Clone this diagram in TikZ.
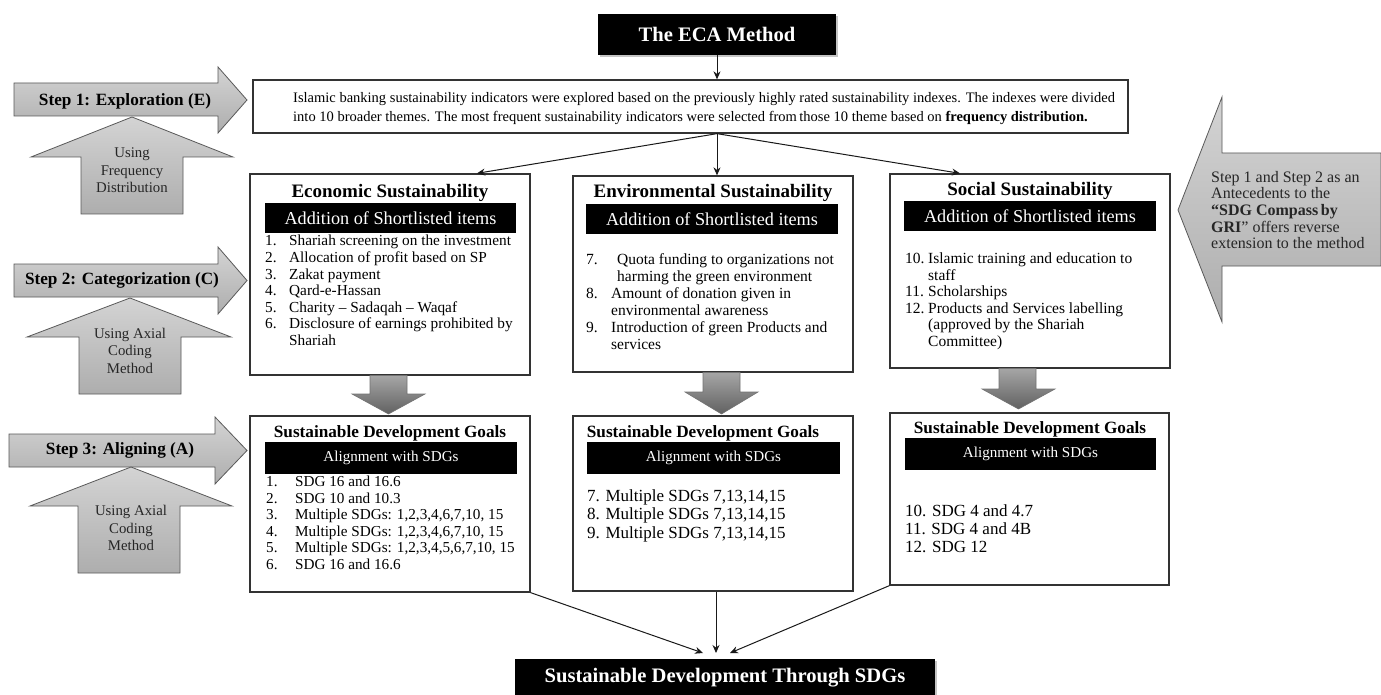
\documentclass[tikz,border=0pt]{standalone}
\usepackage{fontspec}
\setmainfont{Liberation Serif}
\usetikzlibrary{shadows,calc,arrows.meta}
\begin{document}
\begin{tikzpicture}[x=1pt,y=-1pt,
  box/.style={draw=black!80, line width=1.3pt, fill=white, inner sep=0},
  bar/.style={fill=black, text=white, inner sep=0},
  headtxt/.style={inner sep=0, font=\fontsize{19}{21}\selectfont\bfseries},
  sdghead/.style={inner sep=0, font=\fontsize{17.2}{19}\selectfont\bfseries},
  bartxt/.style={bar, font=\fontsize{18.2}{20}\selectfont},
  sdgbar/.style={bar, font=\fontsize{15.1}{17}\selectfont},
  listtxt/.style={inner sep=0, anchor=north west, align=left},
  title/.style={fill=black, text=white, inner sep=0, font=\fontsize{20.6}{22}\selectfont\bfseries,
     drop shadow={shadow xshift=2pt, shadow yshift=-2pt, fill=black!45}},
  blockarrow/.style={draw=black!65, line width=0.8pt, top color=black!17, bottom color=black!32},
  downarrow/.style={draw=black!55, line width=0.6pt, top color=black!35, bottom color=black!62},
  steptxt/.style={inner sep=0, font=\fontsize{17.2}{19}\selectfont\bfseries},
  usetxt/.style={inner sep=0, align=center, text=black!85, font=\fontsize{14.8}{17.5}\selectfont},
  conn/.style={-{Stealth[length=8pt,width=7pt]}, line width=1pt, draw=black!90}
]
\useasboundingbox (0,0) rectangle (1381,695);
\fill[white] (0,0) rectangle (1381,695);

% ---------- left step arrows ----------
\path[blockarrow] (14,83) -- (218,83) -- (218,67) -- (247,100) -- (218,133) -- (218,116) -- (14,116) -- cycle;
\path[blockarrow] (132,117) -- (233,157) -- (183,157) -- (183,214) -- (81,214) -- (81,157) -- (31,157) -- cycle;
\node[steptxt] (s1) at (125,101) {Step 1: Exploration (E)};
\node[usetxt] (u1) at (132,170.5) {Using\\Frequency\\Distribution};

\path[blockarrow] (14,264) -- (218,264) -- (218,247) -- (247,280.5) -- (218,314) -- (218,297) -- (14,297) -- cycle;
\path[blockarrow] (130,298) -- (231,337) -- (181,337) -- (181,394) -- (79,394) -- (79,337) -- (27,337) -- cycle;
\node[steptxt] (s2) at (122,280.5) {Step 2: Categorization (C)};
\node[usetxt] (u2) at (130,350.5) {Using Axial\\Coding\\Method};

\path[blockarrow] (9,434) -- (215,434) -- (215,417) -- (247,450.5) -- (215,484) -- (215,467) -- (9,467) -- cycle;
\path[blockarrow] (131,467) -- (232,506) -- (180,506) -- (180,573) -- (78,573) -- (78,506) -- (30,506) -- cycle;
\node[steptxt] (s3) at (120,450.5) {Step 3: Aligning (A)};
\node[usetxt] (u3) at (131,528) {Using Axial\\Coding\\Method};

% ---------- right arrow ----------
\path[blockarrow] (1381,153) -- (1222,153) -- (1222,97) -- (1178,210) -- (1222,322) -- (1222,266) -- (1381,266) -- cycle;
\node[inner sep=0, anchor=west, align=left, text=black!85, font=\fontsize{16}{16.6}\selectfont] (rtxt) at (1211,210)
  {Step 1 and Step 2 as an\\Antecedents to the\\\textbf{“SDG Compass\,by}\\\textbf{GRI}” offers reverse\\extension to the method};

% ---------- top ----------
\node[title, minimum width=238, minimum height=41] (eca) at (717,34.5) {The ECA Method};
\node[box, minimum width=875, minimum height=53] (topbox) at (690.5,106.5) {};
\node[inner sep=0, anchor=west, align=left, font=\fontsize{14.5}{19}\selectfont] (toptxt) at (293,108.5)
  {Islamic banking sustainability indicators were explored based on the previously highly rated sustainability indexes. The indexes were divided\\
   into 10 broader themes. The most frequent sustainability indicators were selected from\,those 10 theme based on \textbf{frequency distribution.}};

% ---------- category boxes ----------
\node[box, minimum width=280, minimum height=201] (econ) at (390,274.5) {};
\node[headtxt] (econH) at (390,193) {Economic Sustainability};
\node[bartxt, minimum width=251, minimum height=30] (econB) at (390.5,218) {Addition of Shortlisted items};
\node[listtxt, font=\fontsize{15.3}{16.6}\selectfont] (econL) at (265,234) {%
\begin{tabular}{@{}p{24pt}@{}l@{}}
1. & Shariah screening on the investment\\
2. & Allocation of profit based on SP\\
3. & Zakat payment\\
4. & Qard-e-Hassan\\
5. & Charity -- Sadaqah -- Waqaf\\
6. & Disclosure of earnings prohibited by\\
   & Shariah
\end{tabular}};

\node[box, minimum width=280, minimum height=196] (env) at (713,274) {};
\node[headtxt] (envH) at (713,193) {Environmental Sustainability};
\node[bartxt, minimum width=252, minimum height=29] (envB) at (712,219) {Addition of Shortlisted items};
\node[listtxt, font=\fontsize{15.5}{17}\selectfont] (envL) at (586,252) {%
\begin{tabular}{@{}p{25pt}@{}l@{}}
7. & \hspace{6pt}Quota funding to organizations not\\
   & \hspace{6pt}harming the green environment\\
8. & Amount of donation given in\\
   & environmental awareness\\
9. & Introduction of green Products and\\
   & services
\end{tabular}};

\node[box, minimum width=280, minimum height=194] (social) at (1030,271) {};
\node[headtxt] (socH) at (1030,191) {Social Sustainability};
\node[bartxt, minimum width=252, minimum height=30] (socB) at (1030,216) {Addition of Shortlisted items};
\node[listtxt, font=\fontsize{15.5}{16.5}\selectfont] (socL) at (905,252) {%
\begin{tabular}{@{}p{23pt}@{}l@{}}
10. & Islamic training and education to\\
    & staff\\
11. & Scholarships\\
12. & Products and Services labelling\\
    & (approved by the Shariah\\
    & Committee)
\end{tabular}};

% ---------- SDG boxes ----------
\node[box, minimum width=280, minimum height=176] (sdg1) at (390,504) {};
\node[sdghead] (sdg1H) at (390,433) {Sustainable Development Goals};
\node[sdgbar, minimum width=252, minimum height=32] (sdg1B) at (391,458) {Alignment with SDGs};
\node[listtxt, font=\fontsize{15.2}{16.5}\selectfont] (sdg1L) at (266,475) {%
\begin{tabular}{@{}p{29pt}@{}l@{}}
1. & SDG 16 and 16.6\\
2. & SDG 10 and 10.3\\
3. & Multiple SDGs: 1,2,3,4,6,7,10, 15\\
4. & Multiple SDGs: 1,2,3,4,6,7,10, 15\\
5. & Multiple SDGs: 1,2,3,4,5,6,7,10, 15\\
6. & SDG 16 and 16.6
\end{tabular}};

\node[box, minimum width=280, minimum height=175] (sdg2) at (713,503.5) {};
\node[sdghead] (sdg2H) at (703,433) {Sustainable Development Goals};
\node[sdgbar, minimum width=253, minimum height=32] (sdg2B) at (713.5,458) {Alignment with SDGs};
\node[listtxt, font=\fontsize{17}{18.5}\selectfont] (sdg2L) at (587,488) {%
\begin{tabular}{@{}l@{}}
7. Multiple SDGs 7,13,14,15\\
8. Multiple SDGs 7,13,14,15\\
9. Multiple SDGs 7,13,14,15
\end{tabular}};

\node[box, minimum width=279, minimum height=172] (sdg3) at (1029.5,499) {};
\node[sdghead] (sdg3H) at (1030,429) {Sustainable Development Goals};
\node[sdgbar, minimum width=251, minimum height=32] (sdg3B) at (1030.5,454) {Alignment with SDGs};
\node[listtxt, font=\fontsize{17}{18}\selectfont] (sdg3L) at (905,503.5) {%
\begin{tabular}{@{}l@{}}
10. SDG 4 and 4.7\\
11. SDG 4 and 4B\\
12. SDG 12
\end{tabular}};

% ---------- gray down arrows ----------
\path[downarrow] (370,375.5) -- (407,375.5) -- (407,394) -- (425,394) -- (388.5,414) -- (352,394) -- (370,394) -- cycle;
\path[downarrow] (703,372.5) -- (740,372.5) -- (740,392) -- (758,392) -- (721.5,414) -- (685,392) -- (703,392) -- cycle;
\path[downarrow] (999,368.5) -- (1036,368.5) -- (1036,389) -- (1055,389) -- (1018.5,409) -- (982,389) -- (999,389) -- cycle;

% ---------- bottom ----------
\node[title, minimum width=420, minimum height=37] (final) at (725,677.5) {Sustainable Development Through SDGs};

% ---------- connectors ----------
\coordinate (split) at (eca.south |- topbox.south);
\coordinate (fin) at (716,653);
\draw[conn] (eca.south) -- (eca.south |- topbox.north);
\draw[conn] (split) -- ([xshift=87pt]econ.north);
\draw[conn] (split) -- (split |- env.north);
\draw[conn] (split) -- ([xshift=-70pt]social.north);
\draw[conn] (sdg1.south east) -- ([xshift=-13pt]fin);
\draw[conn] (fin |- sdg2.south) -- (fin);
\draw[conn] (sdg3.south west) -- ([xshift=14pt]fin);
\end{tikzpicture}
\end{document}
